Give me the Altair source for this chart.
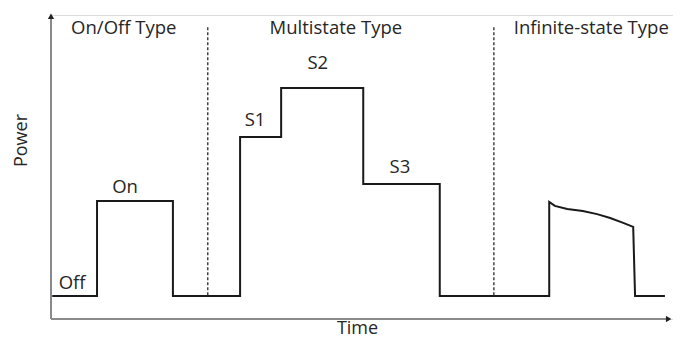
import altair as alt
import pandas as pd

# Step / load signature (time units 0-100, power units 0-100)
sig_time = [0.2, 7.4, 7.4, 19.6, 19.6, 30.4, 30.4, 37.0, 37.0, 50.2, 50.2, 62.5, 62.5,
            80.1, 80.1, 81.0, 83.0, 85.5, 87.8, 89.9, 92.0, 93.6, 93.9, 98.7]
sig_power = [7.6, 7.6, 38.8, 38.8, 7.6, 7.6, 59.9, 59.9, 76.0, 76.0, 44.4, 44.4, 7.6,
             7.6, 38.5, 37.2, 36.2, 35.5, 34.5, 33.2, 31.6, 30.3, 7.6, 7.6]

# Dashed separators between appliance types
sep_time = [25.2, 71.2]
sep_top = [96.0, 96.0]
sep_bottom = [7.6, 7.6]

# Annotations
lab_text = ["On/Off Type", "Multistate Type", "S2", "S1", "S3", "On", "Off"]
lab_time = [11.7, 45.8, 42.9, 32.8, 56.1, 11.9, 3.4]
lab_power = [95.7, 95.7, 84.2, 65.5, 50.0, 43.4, 11.8]
left_text = ["Infinite-state Type"]
left_time = [74.4]
left_power = [95.7]

FONT = "Open Sans"
FS = 18.5
TXT = "#262626"

sig = pd.DataFrame({"t": sig_time, "p": sig_power, "o": list(range(len(sig_time)))})
sep = pd.DataFrame({"t": sep_time, "p": sep_top, "p2": sep_bottom})
labs = pd.DataFrame({"txt": lab_text, "t": lab_time, "p": lab_power})
labl = pd.DataFrame({"txt": left_text, "t": left_time, "p": left_power})
xaxis = pd.DataFrame({"t": [0.0], "t2": [99.5], "p": [0.0]})
yaxis = pd.DataFrame({"t": [0.0], "p": [0.0], "p2": [100.0]})
xarrow = pd.DataFrame({"t": [99.3], "p": [0.0]})
yarrow = pd.DataFrame({"t": [0.0], "p": [99.6]})

xs = alt.Scale(domain=[0, 100], nice=False, zero=False)
ys = alt.Scale(domain=[0, 100], nice=False, zero=False)

X = alt.X("t:Q", scale=xs, axis=alt.Axis(title="Time", domain=False, ticks=False, labels=False,
                                         grid=False, titleFont=FONT, titleFontSize=18,
                                         titleFontWeight="normal", titleColor=TXT,
                                         titleY=14, titleX=306, titleBaseline="alphabetic"))
Y = alt.Y("p:Q", scale=ys, axis=alt.Axis(title="Power", domain=False, ticks=False, labels=False,
                                         grid=False, titleFont=FONT, titleFontSize=18,
                                         titleFontWeight="normal", titleColor=TXT,
                                         titleX=-30, titleY=125, titleBaseline="middle",
                                         titleAngle=270))

base_x = alt.X("t:Q", scale=xs)
base_y = alt.Y("p:Q", scale=ys)

xa = alt.Chart(xaxis).mark_rule(color="#8a8a8a", strokeWidth=2).encode(x=X, x2="t2:Q", y=Y)
ya = alt.Chart(yaxis).mark_rule(color="#8a8a8a", strokeWidth=2).encode(x=base_x, y=base_y, y2="p2:Q")
xar = alt.Chart(xarrow).mark_point(shape="triangle-right", filled=True, size=40,
                                   color="#222", opacity=1).encode(x=base_x, y=base_y)
yar = alt.Chart(yarrow).mark_point(shape="triangle-up", filled=True, size=40,
                                   color="#222", opacity=1).encode(x=base_x, y=base_y)

line = alt.Chart(sig).mark_line(color="#1a1a1a", strokeWidth=2, interpolate="linear").encode(
    x=base_x, y=base_y, order="o:Q")

seps = alt.Chart(sep).mark_rule(color="#444", strokeWidth=1.5, strokeDash=[3, 2]).encode(
    x=base_x, y=base_y, y2="p2:Q")

txt = alt.Chart(labs).mark_text(font=FONT, fontSize=FS, color=TXT, align="center",
                                baseline="middle").encode(x=base_x, y=base_y, text="txt:N")
txtl = alt.Chart(labl).mark_text(font=FONT, fontSize=FS, color=TXT, align="left",
                                 baseline="middle").encode(x=base_x, y=base_y, text="txt:N")

chart = alt.layer(xa, ya, line, seps, xar, yar, txt, txtl).properties(
    width=622, height=304,
    autosize=alt.AutoSizeParams(type="none"),
    padding={"left": 43, "top": 7, "right": 0, "bottom": 20},
).configure_view(stroke=None).configure(background="white")

chart.save("out.html", embed_options={"renderer": "svg", "actions": False})
